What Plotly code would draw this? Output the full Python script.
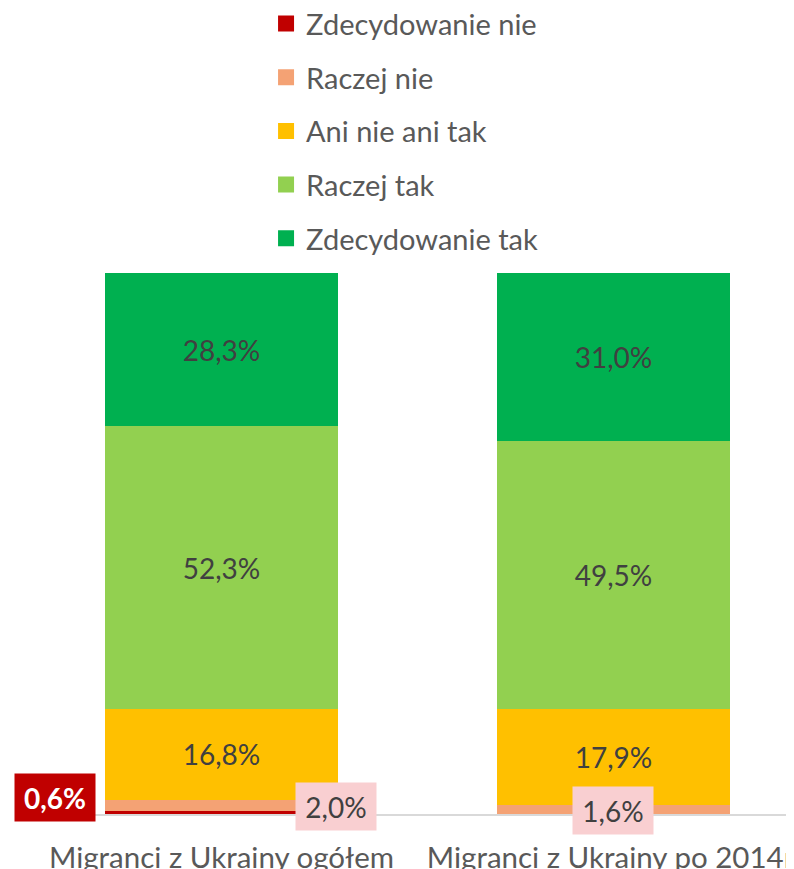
import plotly.graph_objects as go

categories = ["Migranci z Ukrainy ogółem", "Migranci z Ukrainy po 2014r."]
series_names = ["Zdecydowanie nie", "Raczej nie", "Ani nie ani tak", "Raczej tak", "Zdecydowanie tak"]
zdecydowanie_nie = [0.6, 0.0]
raczej_nie = [2.0, 1.6]
ani_nie_ani_tak = [16.8, 17.9]
raczej_tak = [52.3, 49.5]
zdecydowanie_tak = [28.3, 31.0]
colors = ["#C00000", "#F4A274", "#FFC000", "#92D050", "#00B050"]

series_values = [zdecydowanie_nie, raczej_nie, ani_nie_ani_tak, raczej_tak, zdecydowanie_tak]
xpos = list(range(len(categories)))

def fmt(v):
    return f"{v:.1f}".replace(".", ",") + "%"

FONT = "Lato"
fig = go.Figure()
for i, (name, vals, col) in enumerate(zip(series_names, series_values, colors)):
    inside = i >= 2
    fig.add_trace(go.Bar(
        x=xpos, y=vals, name=name, marker=dict(color=col, line=dict(width=0)),
        text=[fmt(v) for v in vals] if inside else None,
        textposition="inside" if inside else "none",
        insidetextanchor="middle",
        textfont=dict(family=FONT, size=28, color="#404040"),
        width=0.594, legendgroup=name, showlegend=False,
        hoverinfo="skip",
    ))
    # legend entry with a larger square symbol
    fig.add_trace(go.Scatter(
        x=[None], y=[None], mode="markers", name=name, legendgroup=name,
        marker=dict(symbol="square", size=18, color=col), hoverinfo="skip",
    ))

# small-segment callout labels
fig.add_annotation(x=0, y=zdecydowanie_nie[0] / 2, text="<b>" + fmt(zdecydowanie_nie[0]) + "</b>",
                   showarrow=False, xshift=-167, yshift=15, width=78, height=45,
                   bgcolor="#C00000", font=dict(family=FONT, size=28, color="white"))
fig.add_annotation(x=0, y=zdecydowanie_nie[0] + raczej_nie[0] / 2, text=fmt(raczej_nie[0]),
                   showarrow=False, xshift=114.5, yshift=-1, width=78, height=45,
                   bgcolor="#F9CFD1", font=dict(family=FONT, size=28, color="#404040"))
fig.add_annotation(x=1, y=zdecydowanie_nie[1] + raczej_nie[1] / 2, text=fmt(raczej_nie[1]),
                   showarrow=False, xshift=0, yshift=-1, width=78, height=45,
                   bgcolor="#F9CFD1", font=dict(family=FONT, size=28, color="#404040"))

fig.update_layout(
    width=794, height=869,
    barmode="stack",
    plot_bgcolor="white", paper_bgcolor="white",
    margin=dict(l=17, r=8, t=265, b=63, autoexpand=False),
    legend=dict(
        traceorder="grouped", orientation="v",
        xref="container", yref="paper",
        x=0.325, xanchor="left", y=1.508, yanchor="top",
        font=dict(family=FONT, size=29, color="#595959"),
        tracegroupgap=13, itemclick=False, itemsizing="trace",
        bgcolor="rgba(0,0,0,0)",
    ),
    xaxis=dict(
        range=[-0.5013, 1.4605],
        tickvals=xpos, ticktext=categories,
        showline=True, linecolor="#D9D9D9", linewidth=2,
        ticks="", tickfont=dict(family=FONT, size=29.5, color="#595959"),
        ticklabelstandoff=17,
        showgrid=False, zeroline=False,
    ),
    yaxis=dict(range=[0, 100], visible=False, showgrid=False, zeroline=False),
    showlegend=True,
)

fig.write_html("out.html")
